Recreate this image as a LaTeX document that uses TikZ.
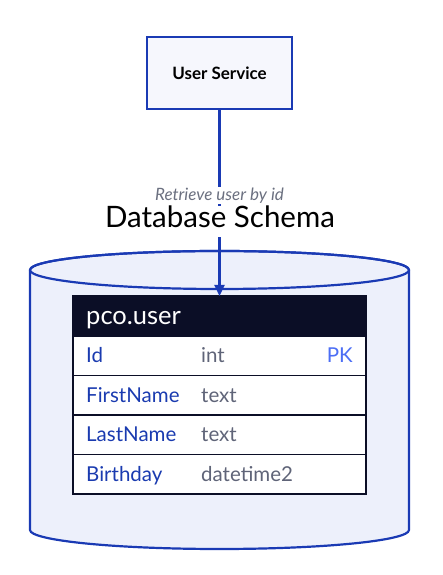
\documentclass[tikz,border=0pt]{standalone}
\usepackage{fontspec}
\setmainfont{Lato}
\usetikzlibrary{arrows.meta,positioning}

\definecolor{edgeblue}{RGB}{26,58,180}
\definecolor{boxfill}{RGB}{246,247,253}
\definecolor{dbfill}{RGB}{237,240,251}
\definecolor{headfill}{RGB}{11,14,38}
\definecolor{namecol}{RGB}{26,59,176}
\definecolor{typecol}{RGB}{95,100,120}
\definecolor{pkcol}{RGB}{76,110,245}
\definecolor{labelcol}{RGB}{107,112,128}

\begin{document}
\begin{tikzpicture}[x=1pt, y=1pt, node distance=0pt,
  service/.style = {draw=edgeblue, line width=2.2pt, fill=boxfill, minimum width=145pt, minimum height=72pt, font=\fontsize{17}{20}\selectfont\bfseries},
  header/.style = {draw=headfill, line width=1.4pt, fill=headfill, text=white, minimum width=293pt, minimum height=40pt, inner sep=0pt, outer sep=0pt},
  row/.style = {draw=headfill, line width=1.4pt, fill=white, minimum width=293pt, minimum height=39.5pt, inner sep=0pt, outer sep=0pt},
  colname/.style = {anchor=base west, inner sep=0pt, text=namecol, font=\fontsize{20.5}{24}\selectfont},
  coltype/.style = {anchor=base west, inner sep=0pt, text=typecol, font=\fontsize{20.5}{24}\selectfont},
  colkey/.style = {anchor=base east, inner sep=0pt, text=pkcol, font=\fontsize{20.5}{24}\selectfont}]
\useasboundingbox (0,0) rectangle (442,575);

% database cylinder
\filldraw[fill=dbfill, draw=edgeblue, line width=2.2pt] (30,305) -- (30,45) arc[start angle=180, end angle=360, x radius=189.5, y radius=19] -- (409,305) arc[start angle=0, end angle=180, x radius=189.5, y radius=19] -- cycle;
\draw[edgeblue, line width=2.2pt] (219.5,305) ellipse [x radius=189.5, y radius=19];

% service
\node[service] (svc) at (219.5,502) {User Service};

% table pco.user
\node[header] (hdr) at (219.5,259) {};
\node[anchor=base west, inner sep=0pt, text=white, font=\fontsize{25.5}{30}\selectfont] (title) at ([xshift=13pt, yshift=-9pt]hdr.west) {pco.user};
\node[row] (r1) [below=of hdr] {};
\node[row] (r2) [below=of r1] {};
\node[row] (r3) [below=of r2] {};
\node[row] (r4) [below=of r3] {};
\node[colname] (n1) at ([xshift=13pt, yshift=-7pt]r1.west) {Id};
\node[coltype] (t1) at ([xshift=128pt, yshift=-7pt]r1.west) {int};
\node[colkey] (k1) at ([xshift=-13pt, yshift=-7pt]r1.east) {PK};
\node[colname] (n2) at ([xshift=13pt, yshift=-7pt]r2.west) {FirstName};
\node[coltype] (t2) at ([xshift=128pt, yshift=-7pt]r2.west) {text};
\node[colname] (n3) at ([xshift=13pt, yshift=-7pt]r3.west) {LastName};
\node[coltype] (t3) at ([xshift=128pt, yshift=-7pt]r3.west) {text};
\node[colname] (n4) at ([xshift=13pt, yshift=-7pt]r4.west) {Birthday};
\node[coltype] (t4) at ([xshift=128pt, yshift=-7pt]r4.west) {datetime2};

% query
\draw[edgeblue, line width=2.2pt, -{Triangle[length=11pt, width=10pt]}] (svc) -- (hdr) node[pos=0.46, fill=white, inner sep=1pt, text=labelcol, font=\fontsize{17}{20}\selectfont\itshape] (qry) {Retrieve user by id};

% schema title
\node[fill=white, inner xsep=2pt, inner ysep=0pt, text depth=9pt, anchor=base, font=\fontsize{29.5}{35}\selectfont] (schema) at (220,347) {Database Schema};
\end{tikzpicture}
\end{document}
